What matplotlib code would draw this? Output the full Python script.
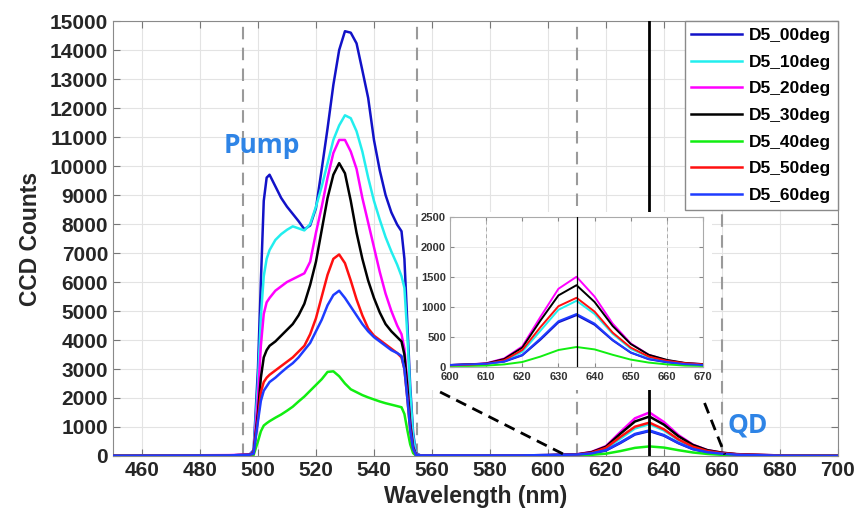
import numpy as np
import matplotlib
matplotlib.use("Agg")
import matplotlib.pyplot as plt
from matplotlib.patches import Rectangle

plt.rcParams['font.family'] = ['Liberation Sans', 'DejaVu Sans']
plt.rcParams['font.weight'] = 'bold'
plt.rcParams['axes.labelweight'] = 'bold'

# Wavelength grid (nm): pump band then QD emission band
wavelength = [450, 490, 497, 498.5, 500, 501, 502, 503, 504, 506, 508, 510, 512, 514,
              516, 518, 520, 522, 524, 526, 528, 530, 532, 534, 536, 538, 540, 542,
              544, 546, 548, 549.5, 550.5, 551.5, 552.5, 553.5, 554.5, 556, 570, 590,
              600, 605, 610, 615, 620, 625, 630, 635, 640, 645, 650, 655, 660, 665,
              670, 680, 700]

labels = ["D5_00deg", "D5_10deg", "D5_20deg", "D5_30deg", "D5_40deg", "D5_50deg", "D5_60deg"]
colors = ["#1212C8", "#22EEEE", "#FF00FF", "#000000", "#11EE11", "#FF1010", "#1E3CFF"]

d5_00 = [10, 20, 40, 200, 3000, 6000, 8800, 9600, 9700, 9300, 8900, 8600, 8350, 8100,
         7820, 7950, 8550, 9900, 11300, 12800, 14000, 14650, 14600, 14230, 13300, 12350, 10900, 9850,
         9000, 8400, 7980, 7750, 6800, 4600, 2400, 800, 100, 20, 20, 20,
         30, 40, 50, 85, 190, 450, 740, 860, 700, 440, 235, 125, 75, 40,
         25, 10, 5]
d5_10 = [10, 20, 40, 150, 2500, 4800, 6200, 6800, 7100, 7450, 7650, 7800, 7920, 7850,
         7780, 8000, 8600, 9300, 10100, 10900, 11400, 11750, 11650, 11200, 10500, 9600, 8800, 8150,
         7550, 7050, 6600, 6200, 5800, 4200, 2200, 700, 80, 20, 20, 20,
         25, 35, 45, 100, 250, 600, 950, 1100, 880, 550, 300, 160, 90, 50,
         35, 15, 8]
d5_20 = [10, 30, 50, 120, 2000, 3800, 4900, 5300, 5450, 5700, 5850, 6000, 6100, 6200,
         6300, 6700, 7700, 8600, 9600, 10450, 10900, 10900, 10500, 9900, 8900, 8050, 7200, 6350,
         5600, 5000, 4500, 4200, 3700, 2500, 1200, 350, 50, 20, 20, 20,
         30, 40, 60, 140, 340, 830, 1300, 1500, 1170, 720, 390, 200, 110, 60,
         45, 20, 10]
d5_30 = [10, 20, 40, 100, 1500, 2700, 3400, 3650, 3800, 3950, 4150, 4350, 4550, 4850,
         5250, 5900, 6700, 7800, 8900, 9700, 10100, 9750, 8800, 7700, 6800, 6050, 5450, 4950,
         4550, 4300, 4100, 3950, 3500, 2400, 1100, 300, 40, 20, 20, 20,
         30, 40, 55, 130, 320, 770, 1190, 1360, 1080, 680, 380, 200, 115, 65,
         45, 20, 10]
d5_40 = [10, 15, 20, 30, 500, 850, 1050, 1130, 1200, 1320, 1430, 1560, 1700, 1880,
         2050, 2250, 2450, 2650, 2900, 2920, 2750, 2500, 2300, 2200, 2100, 2020, 1950, 1880,
         1820, 1770, 1720, 1680, 1450, 900, 400, 100, 10, 15, 15, 15,
         15, 15, 20, 40, 80, 170, 280, 330, 290, 200, 120, 70, 40, 20,
         15, 8, 4]
d5_50 = [10, 20, 40, 80, 1300, 2200, 2550, 2700, 2800, 2950, 3100, 3250, 3400, 3600,
         3800, 4200, 4750, 5500, 6250, 6800, 6950, 6650, 6050, 5400, 4850, 4400, 4150, 4000,
         3850, 3700, 3550, 3400, 3000, 2000, 900, 250, 30, 20, 20, 20,
         25, 35, 50, 110, 280, 660, 1010, 1150, 920, 570, 320, 170, 100, 60,
         40, 15, 8]
d5_60 = [10, 20, 40, 80, 1200, 1900, 2250, 2400, 2550, 2700, 2880, 3050, 3200, 3400,
         3650, 3900, 4300, 4700, 5200, 5550, 5700, 5450, 5150, 4850, 4550, 4300, 4100, 3950,
         3800, 3650, 3550, 3450, 3000, 2000, 900, 250, 30, 20, 20, 20,
         30, 40, 50, 90, 200, 470, 760, 880, 720, 450, 240, 130, 80, 45,
         30, 12, 6]
series = [d5_00, d5_10, d5_20, d5_30, d5_40, d5_50, d5_60]

band_edges = [495, 555, 610, 660]   # gray dashed guides
qd_peak = 635                       # solid black marker
zoom_left = ([562.8, 606.6], [2207, 0])
zoom_right = ([654, 661], [1828, 50])

fig = plt.figure(figsize=(8.59, 5.24), dpi=100)
ax = fig.add_axes([0.1315, 0.1298, 0.844, 0.830])

for y, c, lab in zip(series, colors, labels):
    ax.plot(wavelength, y, color=c, lw=1.8, label=lab, zorder=3, solid_joinstyle="round")

for xe in band_edges:
    ax.axvline(xe, color="#9a9a9a", lw=1.5, ls=(0, (6, 4)), zorder=2)
ax.axvline(qd_peak, color="black", lw=2.0, zorder=4)

ax.plot(*zoom_left, color="black", lw=2.0, ls=(0, (4, 2.5)), zorder=4)
ax.plot(*zoom_right, color="black", lw=2.0, ls=(0, (4, 2.5)), zorder=4)

ax.text(501.5, 10700, "Pump", color="#2E84E6", fontsize=19, fontweight="bold",
        family="Open Sans", ha="center", va="center")
ax.text(669, 1070, "QD", color="#2E84E6", fontsize=19, fontweight="bold",
        family="Open Sans", ha="center", va="center")

ax.set_xlim(450, 700)
ax.set_ylim(0, 15000)
ax.set_xticks(np.arange(460, 701, 20))
ax.set_yticks(np.arange(0, 15001, 1000))
ax.grid(True, color="#e3e3e3", lw=0.8, zorder=0)
ax.set_axisbelow(True)
ax.tick_params(direction="in", top=True, right=True, length=5, color="#777777",
               labelsize=15, labelcolor="#262626")
for s in ax.spines.values():
    s.set_color("#8a8a8a")
ax.set_xlabel("Wavelength (nm)", fontsize=16.5, fontweight="bold", color="#262626", labelpad=4)
ax.set_ylabel("CCD Counts", fontsize=16.5, fontweight="bold", color="#262626", labelpad=6)

leg = ax.legend(loc="upper right", borderaxespad=0, fontsize=12.5, fancybox=False,
                handlelength=2.9, labelspacing=0.66, framealpha=1, edgecolor="#8a8a8a",
                borderpad=0.4, handletextpad=0.4)
leg.get_frame().set_linewidth(1.0)
leg.set_zorder(6)

# white backdrop behind the inset
fig.add_artist(Rectangle((0.4866, 0.2557), 0.3423, 0.3397, transform=fig.transFigure,
                         facecolor="white", edgecolor="none", zorder=1))

ins = fig.add_axes([0.5239, 0.300, 0.2945, 0.2863], zorder=2)
for y, c in zip(series, colors):
    ins.plot(wavelength, y, color=c, lw=1.4, zorder=3, solid_joinstyle="round")
for xe in band_edges:
    ins.axvline(xe, color="#aaaaaa", lw=0.7, ls=(0, (4, 3)), zorder=2)
ins.axvline(qd_peak, color="black", lw=0.9, zorder=4)
ins.set_xlim(600, 670)
ins.set_ylim(0, 2500)
ins.set_xticks(np.arange(600, 671, 10))
ins.set_yticks(np.arange(0, 2501, 500))
ins.grid(True, color="#e6e6e6", lw=0.6)
ins.set_axisbelow(True)
ins.tick_params(direction="in", top=True, right=True, length=3, color="#888888",
                labelsize=8, labelcolor="#333333")
ins.tick_params(axis="x", pad=4)
ins.tick_params(axis="y", pad=3)
for s in ins.spines.values():
    s.set_color("#aaaaaa")

fig.savefig("out.png", dpi=100)
